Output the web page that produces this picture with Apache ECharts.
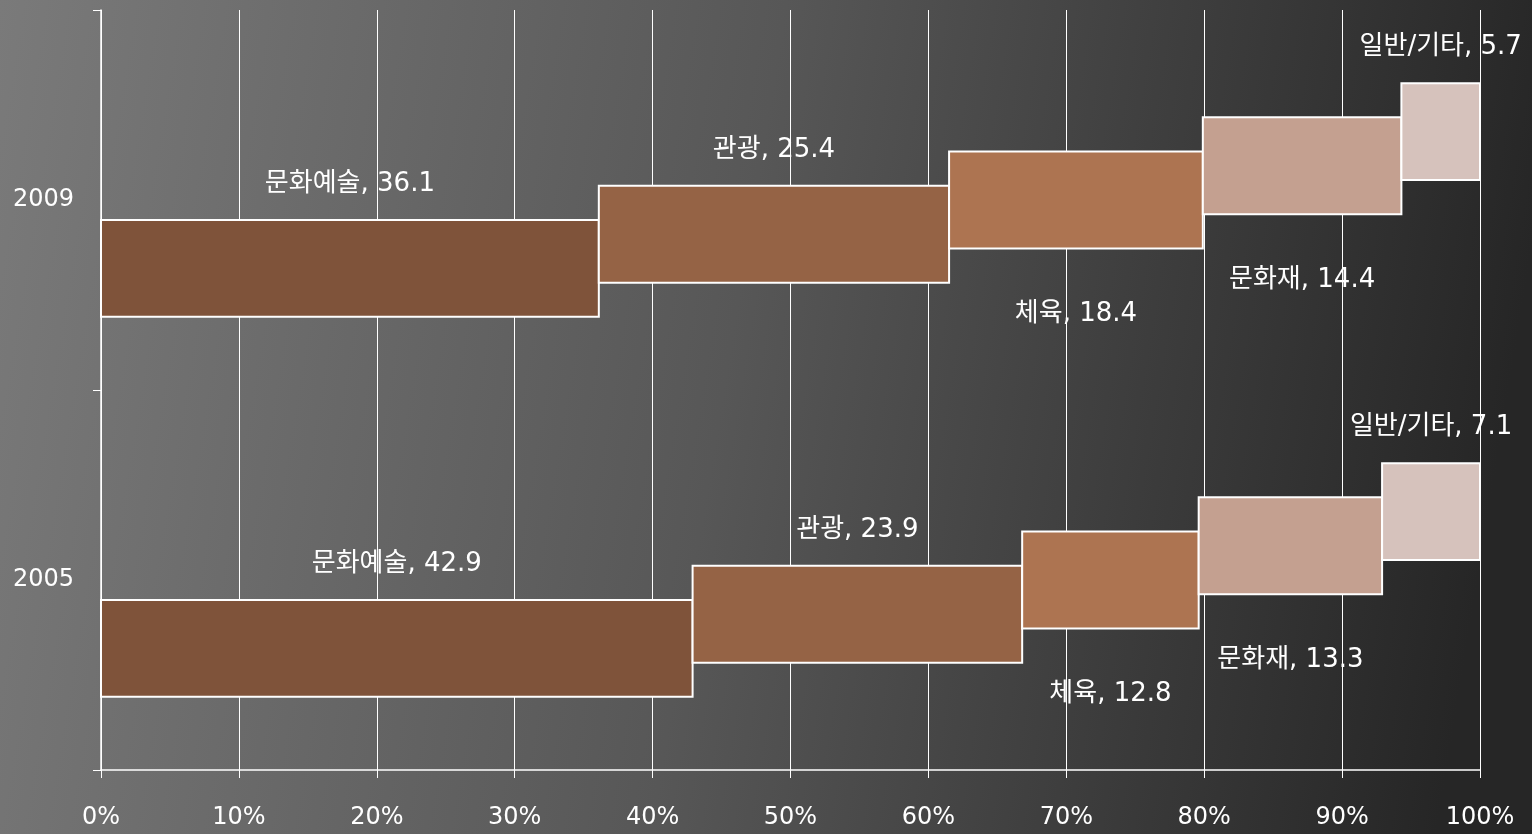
<!DOCTYPE html>
<html>
<head>
<meta charset="utf-8">
<script src="https://cdn.jsdelivr.net/npm/echarts@6/dist/echarts.min.js"></script>
<style>
html,body{margin:0;padding:0;width:1532px;height:834px;overflow:hidden;}
#chart{width:1532px;height:834px;}
</style>
</head>
<body>
<div id="chart"></div>
<script>
const years = ['2005', '2009'];
const sectors = ['문화예술', '관광', '체육', '문화재', '일반/기타'];
const values2005 = [42.9, 23.9, 12.8, 13.3, 7.1];
const values2009 = [36.1, 25.4, 18.4, 14.4, 5.7];
const xTicks = [0, 10, 20, 30, 40, 50, 60, 70, 80, 90, 100];
const colors = ['#7F533A', '#956345', '#AD7451', '#C4A090', '#D6C2BC'];
const labelAbove = [true, true, false, false, true];

const valuesByYear = [values2005, values2009];

function buildData(k) {
  return valuesByYear.map(function (vals, yi) {
    let start = 0;
    for (let j = 0; j < k; j++) start += vals[j];
    return [start, start + vals[k], yi, vals[k]];
  });
}

const series = sectors.map(function (name, k) {
  return {
    type: 'custom',
    name: name,
    data: buildData(k),
    encode: { x: [0, 1], y: 2 },
    z: 2 + k,
    renderItem: function (params, api) {
      const s = api.value(0), e = api.value(1), yi = api.value(2), v = api.value(3);
      const p0 = api.coord([s, yi]);
      const p1 = api.coord([e, yi]);
      const band = api.size([0, 1])[1];
      const h = band * 0.255;
      const cy = p0[1] + (2 - k) * band * 0.09;
      const top = cy - h / 2;
      const ty = labelAbove[k] ? top - 36 : top + h + 66;
      return {
        type: 'group',
        children: [
          {
            type: 'rect',
            shape: { x: p0[0], y: top, width: p1[0] - p0[0], height: h },
            style: { fill: colors[k], stroke: '#FFFFFF', lineWidth: 2 }
          },
          {
            type: 'text',
            style: {
              x: (p0[0] + p1[0]) / 2,
              y: ty,
              text: name + ', ' + v.toFixed(1),
              fill: '#FFFFFF',
              font: '26px "DejaVu Sans", "Noto Sans CJK KR", sans-serif',
              textAlign: 'center',
              textVerticalAlign: 'middle'
            }
          }
        ]
      };
    }
  };
});

const chart = echarts.init(document.getElementById('chart'));
chart.setOption({
  backgroundColor: {
    type: 'linear', x: 0, y: 0, x2: 1, y2: 0.3,
    colorStops: [
      { offset: 0, color: '#7a7a7a' },
      { offset: 0.5, color: '#575757' },
      { offset: 1, color: '#262626' }
    ]
  },
  animation: false,
  grid: { left: 101, right: 52, top: 10, bottom: 64 },
  xAxis: {
    type: 'value',
    min: 0, max: 100, interval: 10,
    axisLine: { show: true, lineStyle: { color: '#FFFFFF', width: 1.5 } },
    axisTick: { show: true, length: 8, lineStyle: { color: '#FFFFFF' } },
    splitLine: { show: true, lineStyle: { color: '#FFFFFF', width: 1 } },
    axisLabel: {
      color: '#FFFFFF', fontSize: 24, margin: 36,
      fontFamily: 'DejaVu Sans',
      formatter: function (v) { return xTicks.indexOf(v) >= 0 ? v + '%' : ''; }
    }
  },
  yAxis: {
    type: 'category',
    data: years,
    axisLine: { show: true, lineStyle: { color: '#FFFFFF', width: 1.5 } },
    axisTick: { show: true, length: 8, lineStyle: { color: '#FFFFFF' } },
    axisLabel: { color: '#FFFFFF', fontSize: 24, margin: 27, fontFamily: 'DejaVu Sans' },
    splitLine: { show: false }
  },
  series: series
});
</script>
</body>
</html>
